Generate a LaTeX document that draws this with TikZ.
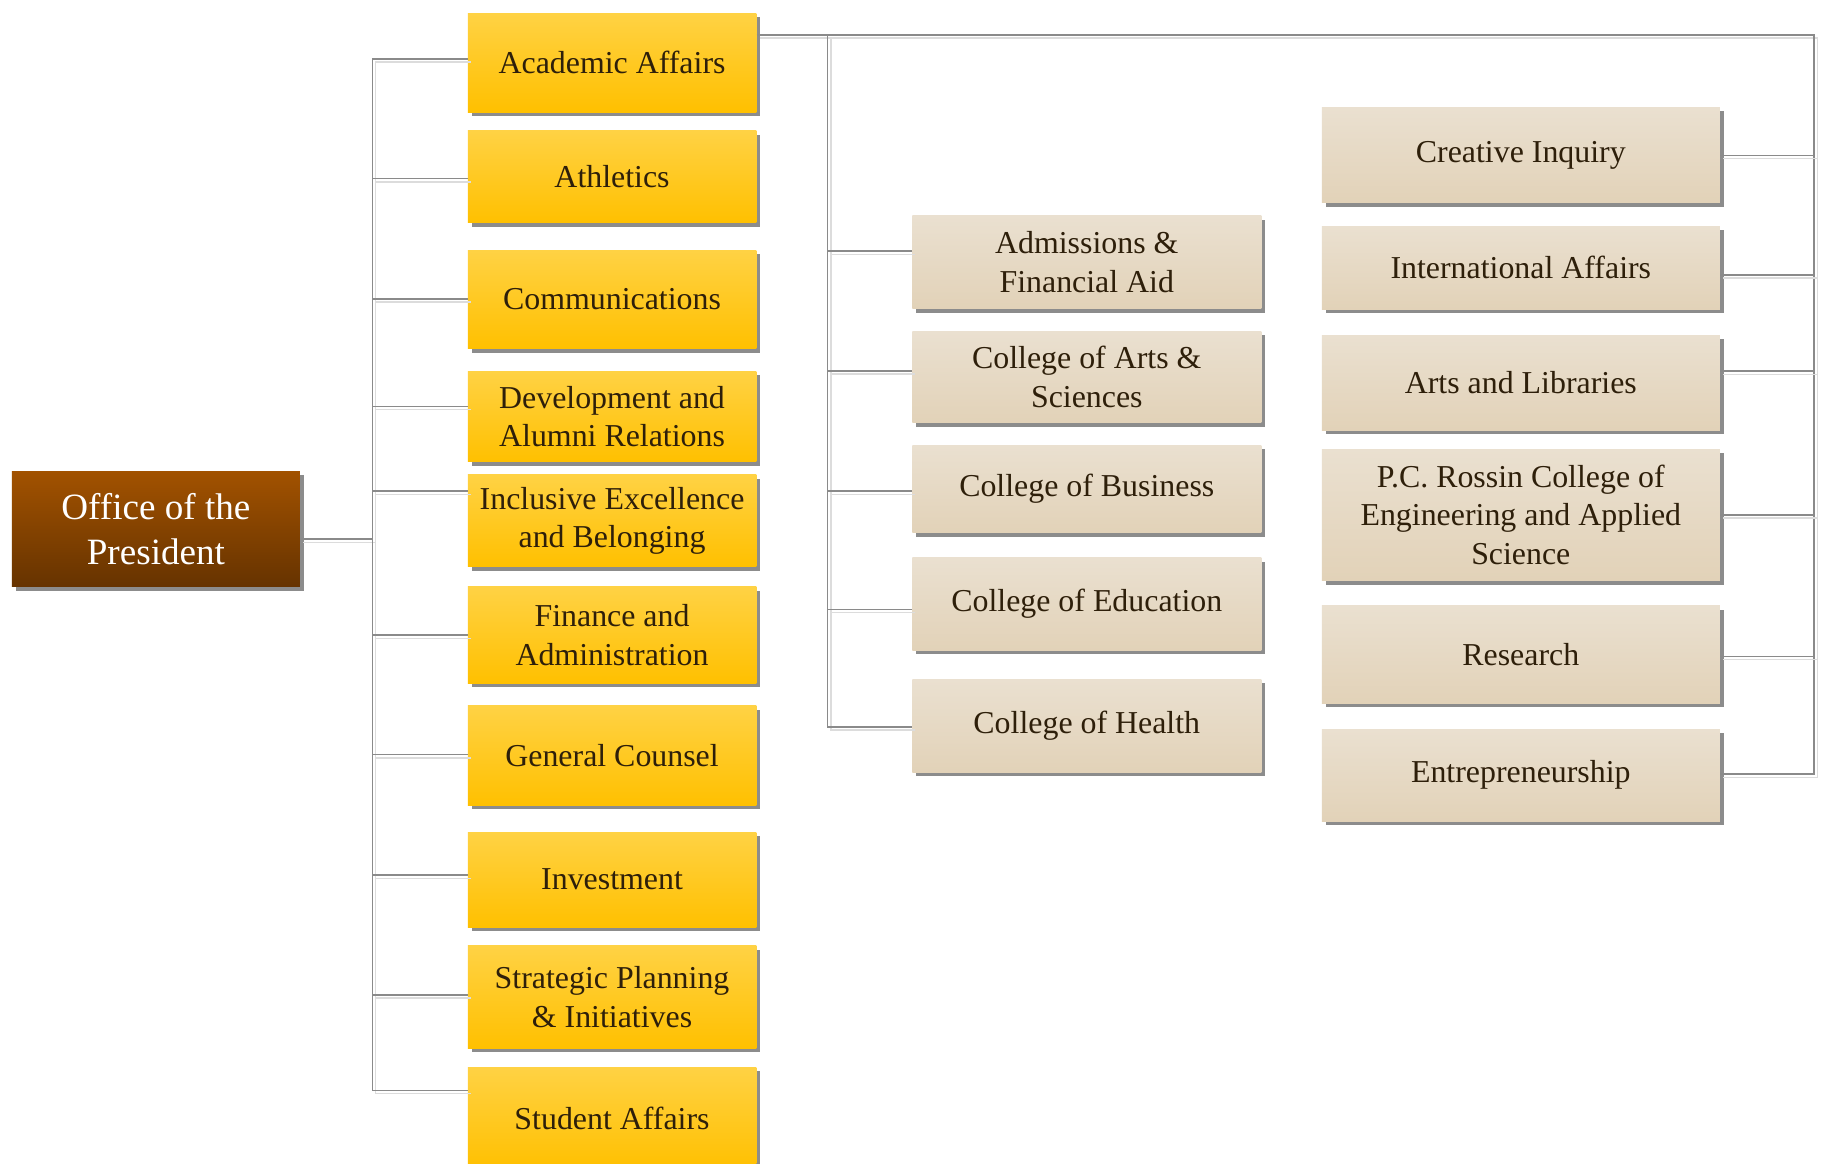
\documentclass[tikz,border=0pt]{standalone}
\usepackage{fontspec}
\setmainfont{Liberation Serif}
\usepackage{tikz}
\usetikzlibrary{shadows}
\definecolor{browntop}{HTML}{A25200}
\definecolor{brownbot}{HTML}{663300}
\definecolor{goldtop}{HTML}{FFD244}
\definecolor{goldbot}{HTML}{FFC000}
\definecolor{sandtop}{HTML}{EAE0D0}
\definecolor{sandbot}{HTML}{E2D2B8}
\definecolor{inkbrown}{HTML}{2E1F0A}
\definecolor{boxshade}{HTML}{8C8C8C}
\definecolor{linkgray}{HTML}{8A8A8A}
\definecolor{linkshade}{HTML}{DCDCDC}
\tikzset{unit/.style = {rectangle, inner sep = 0, align = center, text = inkbrown,
                        font = \fontsize{27.4}{33}\selectfont,
                        drop shadow = {shadow xshift = 3.4pt, shadow yshift = -3.4pt,
                                       fill = boxshade, opacity = 1}}}
\tikzset{head/.style = {unit, top color = browntop, bottom color = brownbot, text = white,
                        font = \fontsize{31.9}{39}\selectfont}}
\tikzset{gold/.style = {unit, top color = goldtop, bottom color = goldbot, minimum width = 248}}
\tikzset{sand/.style = {unit, top color = sandtop, bottom color = sandbot}}
\tikzset{conn/.style = {draw = linkgray, line width = 1.2pt,
                        preaction = {draw = linkshade, line width = 1.2pt,
                                     transform canvas = {xshift = 2.8pt, yshift = -2.8pt}}}}

\begin{document}
\begin{tikzpicture}[x = 1pt, y = -1pt]
      \clip (0, 0) rectangle (1565, 1000);
      \fill [white] (0, 0) rectangle (1565, 1000);
      % offices
      \node [head, minimum width = 247.5, minimum height = 99.4] (pres) at (134, 454.5) {Office of the\\President};
      \node [gold, minimum height = 85] (acad) at (526, 53.8) {Academic Affairs};
      \node [gold, minimum height = 79] (athl) at (526, 152) {Athletics};
      \node [gold, minimum height = 85] (comm) at (526, 257.4) {Communications};
      \node [gold, minimum height = 78] (devel) at (526, 358) {Development and\\Alumni Relations};
      \node [gold, minimum height = 79] (incl) at (526, 447.5) {Inclusive Excellence\\and Belonging};
      \node [gold, minimum height = 83] (fin) at (526, 545.7) {Finance and\\Administration};
      \node [gold, minimum height = 85.5] (gc) at (526, 649.4) {General Counsel};
      \node [gold, minimum height = 81.7] (invest) at (526, 756) {Investment};
      \node [gold, minimum height = 88] (strat) at (526, 857) {Strategic Planning\\\& Initiatives};
      \node [gold, minimum height = 88] (stud) at (526, 961) {Student Affairs};
      % colleges
      \node [sand, minimum width = 300, minimum height = 80] (adm) at (934, 225.3) {Admissions \&\\Financial Aid};
      \node [sand, minimum width = 300, minimum height = 78.6] (artsci) at (934, 324.1) {College of Arts \&\\Sciences};
      \node [sand, minimum width = 300, minimum height = 75.3] (bus) at (934, 420.2) {College of Business};
      \node [sand, minimum width = 300, minimum height = 79.8] (edu) at (934, 519.1) {College of Education};
      \node [sand, minimum width = 300, minimum height = 79.8] (health) at (934, 623.6) {College of Health};
      % other academic units
      \node [sand, minimum width = 342, minimum height = 82] (creat) at (1307, 133.4) {Creative Inquiry};
      \node [sand, minimum width = 342, minimum height = 71.3] (intl) at (1307, 230) {International Affairs};
      \node [sand, minimum width = 342, minimum height = 81.7] (artlib) at (1307, 328.9) {Arts and Libraries};
      \node [sand, minimum width = 342, minimum height = 113] (rossin) at (1307, 442.5) {P.C. Rossin College of\\Engineering and Applied\\Science};
      \node [sand, minimum width = 342, minimum height = 84] (res) at (1307, 562.5) {Research};
      \node [sand, minimum width = 342, minimum height = 79] (entre) at (1307, 666.2) {Entrepreneurship};
      % left bus
      \coordinate (lbus) at (320, 463.2);
      \draw [conn] ([yshift = -8.7pt]pres.east) -- (lbus);
      \draw [conn] ([yshift = 3.2pt]acad.west) -| (lbus) |- ([yshift = 24pt]stud.west);
      \draw [conn] ([yshift = -1.6pt]athl.west) -- ++(-82, 0);
      \draw [conn] ([yshift = 0.5pt]comm.west) -- ++(-82, 0);
      \draw [conn] ([yshift = 8.7pt]devel.west) -- ++(-82, 0);
      \draw [conn] ([yshift = 25.5pt]incl.west) -- ++(-82, 0);
      \draw [conn] (fin.west) -- ++(-82, 0);
      \draw [conn] ([yshift = 0.8pt]gc.west) -- ++(-82, 0);
      \draw [conn] ([yshift = 4pt]invest.west) -- ++(-82, 0);
      \draw [conn] ([yshift = 2pt]strat.west) -- ++(-82, 0);
      % academic affairs buses
      \coordinate (mbus) at (711.3, 30);
      \coordinate (rbus) at (1559, 30);
      \draw [conn] ([yshift = 23.8pt]acad.east) -- (rbus) |- ([yshift = 1pt]entre.east);
      \draw [conn] (mbus) |- ([yshift = -1.1pt]health.west);
      \draw [conn] ([yshift = 9.6pt]adm.west) -- ++(-72.7, 0);
      \draw [conn] ([yshift = 5.4pt]artsci.west) -- ++(-72.7, 0);
      \draw [conn] ([yshift = -1.8pt]bus.west) -- ++(-72.7, 0);
      \draw [conn] ([yshift = -4.5pt]edu.west) -- ++(-72.7, 0);
      \draw [conn] (creat.east) -- ++(81, 0);
      \draw [conn] ([yshift = -6.2pt]intl.east) -- ++(81, 0);
      \draw [conn] ([yshift = 10pt]artlib.east) -- ++(81, 0);
      \draw [conn] (rossin.east) -- ++(81, 0);
      \draw [conn] ([yshift = -1.5pt]res.east) -- ++(81, 0);
    \end{tikzpicture}
\end{document}
